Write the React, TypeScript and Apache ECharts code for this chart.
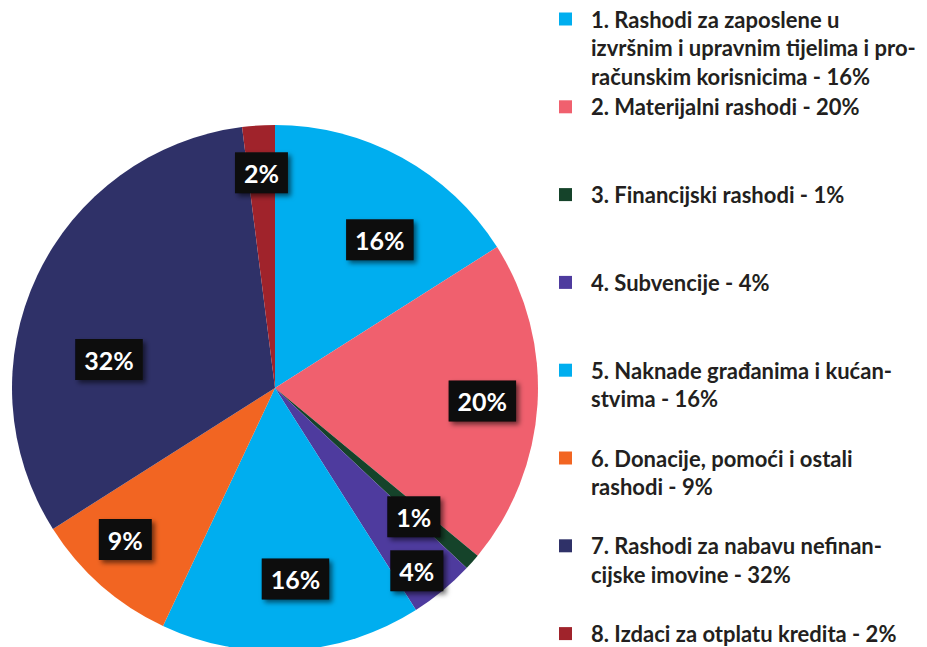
import React, { useEffect, useRef } from "react";
import * as echarts from "echarts";

const categories = [
  "1. Rashodi za zaposlene u\nizvršnim i upravnim tijelima i pro-\nračunskim korisnicima - 16%",
  "2. Materijalni rashodi - 20%",
  "3. Financijski rashodi - 1%",
  "4. Subvencije - 4%",
  "5. Naknade građanima i kućan-\nstvima - 16%",
  "6. Donacije, pomoći i ostali\nrashodi - 9%",
  "7. Rashodi za nabavu nefinan-\ncijske imovine - 32%",
  "8. Izdaci za otplatu kredita - 2%",
];
const values = [16, 20, 1, 4, 16, 9, 32, 2];
const colors = [
  "#00aeef",
  "#f0606e",
  "#15432a",
  "#4e3b9e",
  "#00aeef",
  "#f26522",
  "#2f3168",
  "#a0232b",
];

// label placement (layout only): fraction of the radius and angular nudge in % units
const labelRadius = [0.69, 0.79, 0.72, 0.88, 0.73, 0.81, 0.64, 0.82];
const labelAngleNudge = [1.8, 0, 0.4, 0.5, -0.7, 0.9, -4.3, 0];

const CX = 275;
const CY = 388;
const R = 263;
const LEGEND_X = 559;
const LEGEND_TEXT_X = 591;
const LEGEND_TOP = 19;
const LEGEND_STEP = 87.8;
const LINE_H = 28.5;
const LEGEND_FONT = "bold 22px Lato, 'Open Sans', sans-serif";

export default function App() {
  const ref = useRef<HTMLDivElement>(null);
  useEffect(() => {
    if (!ref.current) return;
    const chart = echarts.init(ref.current, null, { renderer: "svg" });
    const total = values.reduce((a, b) => a + b, 0);
    let acc = 0;
    const labelData = values.map((v, i) => {
      const mid = ((acc + v / 2) / total) * 100 + labelAngleNudge[i];
      acc += v;
      return { name: categories[i], value: [labelRadius[i], mid] };
    });
    const legendGraphics: any[] = [];
    categories.forEach((c, i) => {
      const cy = LEGEND_TOP + i * LEGEND_STEP;
      legendGraphics.push({
        type: "rect",
        x: LEGEND_X,
        y: cy - 6.5,
        shape: { x: 0, y: 0, width: 13, height: 13 },
        style: { fill: colors[i] },
        silent: true,
      });
      legendGraphics.push({
        type: "text",
        x: LEGEND_TEXT_X,
        y: cy - LINE_H / 2,
        style: {
          text: c,
          font: LEGEND_FONT,
          lineHeight: LINE_H,
          fill: "#231f20",
          verticalAlign: "top",
          align: "left",
        },
        silent: true,
      });
    });
    chart.setOption({
      animation: false,
      backgroundColor: "#ffffff",
      polar: { center: [CX, CY], radius: R },
      angleAxis: {
        type: "value",
        min: 0,
        max: 100,
        startAngle: 90,
        clockwise: true,
        show: false,
        axisLine: { show: false },
        axisTick: { show: false },
        axisLabel: { show: false },
        splitLine: { show: false },
      },
      radiusAxis: {
        type: "value",
        min: 0,
        max: 1,
        show: false,
        axisLine: { show: false },
        axisTick: { show: false },
        axisLabel: { show: false },
        splitLine: { show: false },
      },
      series: [
        {
          type: "pie",
          center: [CX, CY],
          radius: [0, R],
          startAngle: 90,
          clockwise: true,
          silent: true,
          label: { show: false },
          labelLine: { show: false },
          data: values.map((v, i) => ({
            name: categories[i],
            value: v,
            itemStyle: { color: colors[i] },
          })),
        },
        {
          type: "scatter",
          coordinateSystem: "polar",
          silent: true,
          symbolSize: 1,
          itemStyle: { color: "rgba(0,0,0,0)", opacity: 1 },
          z: 5,
          label: {
            show: true,
            position: "inside",
            formatter: (p: any) => values[p.dataIndex] + "%",
            color: "#ffffff",
            fontFamily: "Lato, 'Open Sans', sans-serif",
            fontWeight: "bold",
            fontSize: 25,
            lineHeight: 25,
            backgroundColor: "#0a0a0a",
            padding: [8, 9, 8, 9],
            shadowColor: "rgba(0,0,0,0.55)",
            shadowBlur: 5,
            shadowOffsetX: 3,
            shadowOffsetY: 3,
          },
          data: labelData,
        },
      ],
      graphic: legendGraphics,
    });
    return () => chart.dispose();
  }, []);
  return (
    <div
      ref={ref}
      style={{ position: "fixed", left: 0, top: 0, width: 927, height: 647 }}
    />
  );
}
